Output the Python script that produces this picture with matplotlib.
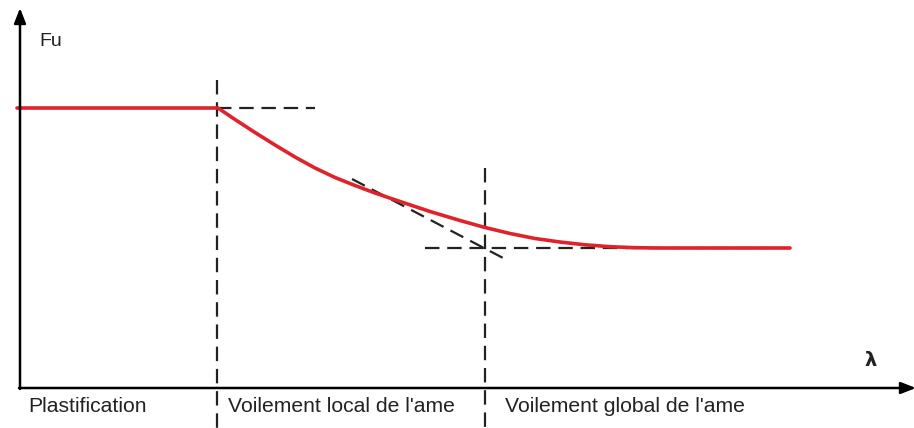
import numpy as np
import matplotlib
matplotlib.use('Agg')
import matplotlib.pyplot as plt

# red curve Fu(lambda) (origin at the axes corner)
lam = [-3, 198, 215, 235, 255, 275, 295, 315, 335, 355, 380, 410, 440,
       465, 490, 515, 540, 565, 590, 615, 640, 770]
fu = [280, 280, 268.5, 255.5, 243, 231, 220, 210.5, 202.5, 195, 186.5, 176.5, 167.5,
      160.5, 154.5, 149.5, 146, 143.2, 141.3, 140.3, 140, 140]

# construction lines
lam_p = 197      # end of plastification
lam_g = 465      # start of global buckling
fu_p = 280
fu_min = 140
tan_x = [332, 485]
tan_y = [209, 129]

zones = ['Plastification', 'Voilement local de l\'ame', 'Voilement global de l\'ame']
zone_x = [8, 208, 485]

fams = ['Liberation Sans Narrow', 'Liberation Sans']

fig = plt.figure(figsize=(9.14, 4.28), dpi=100)
ax = fig.add_axes([0, 0, 1, 1])
ax.set_xlim(-20, 894)
ax.set_ylim(-40, 388)
ax.axis('off')

dash = (0, (6.5, 3.5))
kw = dict(color='#222222', lw=1.6, ls=dash)
ax.plot([lam_p, lam_p], [308, -40], **kw)
ax.plot([lam_p, 295], [fu_p, fu_p], **kw)
ax.plot([lam_g, lam_g], [220, -40], **kw)
ax.plot([405, 770], [fu_min, fu_min], **kw)
ax.plot(tan_x, tan_y, **kw)

ax.plot(lam, fu, color='#e0222b', lw=2.6, solid_capstyle='round',
        solid_joinstyle='round', zorder=3)

# axes with arrows
arr = dict(arrowstyle='-|>,head_width=0.35,head_length=0.9', color='black', lw=1.8,
           shrinkA=0, shrinkB=0)
ax.annotate('', xy=(0, 380), xytext=(0, -1), arrowprops=arr, annotation_clip=False)
ax.annotate('', xy=(896, 0), xytext=(-1, 0), arrowprops=arr, annotation_clip=False)

ax.text(19, 347, 'Fu', fontsize=14, family=fams, color='#222222', va='center')
ax.text(844, 27, 'λ', fontsize=14, fontweight='bold', color='#222222', va='center')
for t, x in zip(zones, zone_x):
    ax.text(x, -18.5, t, fontsize=15.2, family=fams, color='#222222', va='center')

fig.savefig('out.png', dpi=100)
